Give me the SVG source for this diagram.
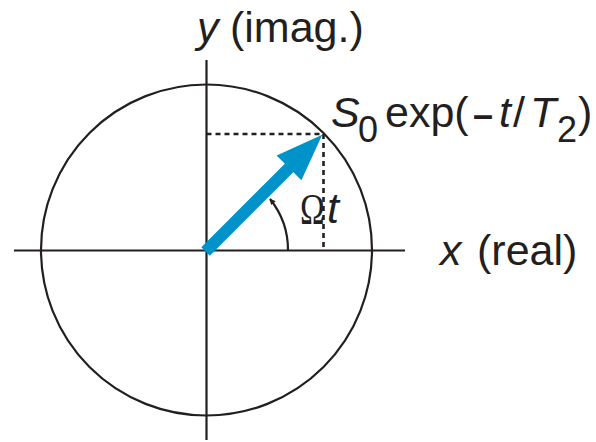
<svg xmlns="http://www.w3.org/2000/svg" width="596" height="442" viewBox="0 0 596 442">
<defs>
<style>
.ln{stroke:#231f20;stroke-width:2.2;fill:none}
.dot{stroke:#231f20;stroke-width:2.6;fill:none;stroke-dasharray:5 4}
.t{font-family:"Liberation Sans",Arial,sans-serif;fill:#231f20;font-size:43px}
.i{font-style:italic}
</style>
<marker id="ah" viewBox="0 0 10 10" refX="9" refY="5" markerWidth="8" markerHeight="6" markerUnits="userSpaceOnUse" orient="auto">
<path d="M0,0 L10,5 L0,10 z" fill="#231f20"/>
</marker>
</defs>
<rect width="596" height="442" fill="#fff"/>
<g id="axes">
<line class="ln" x1="14" y1="250.5" x2="405" y2="250.5"/>
<line class="ln" x1="206.5" y1="60" x2="206.5" y2="440"/>
</g>
<g id="circle">
<circle class="ln" cx="206.5" cy="250" r="165.5"/>
</g>
<g id="connectors">
<polyline class="dot" points="206.5,134 323.5,134 323.5,250"/>
<path class="ln" d="M288,250.5 A81.5,81.5 0 0 0 270,199" stroke-width="1.8" marker-end="url(#ah)"/>
</g>
<g id="vector" transform="translate(207,250) rotate(-45)">
<rect x="-2" y="-6" width="122" height="12" fill="#0093c9"/>
<polygon points="116,-17.5 163,0 116,17.5" fill="#0093c9"/>
</g>
<g id="label-y">
<text class="t" y="42"><tspan class="i" x="197">y</tspan><tspan x="230">(imag.)</tspan></text>
</g>
<g id="label-x">
<text class="t" y="265"><tspan class="i" x="440">x</tspan><tspan x="477">(real)</tspan></text>
</g>
<g id="label-s">
<text class="t" y="127"><tspan class="i" x="331">S</tspan><tspan x="358" y="142" font-size="36">0</tspan><tspan x="385" y="127">exp(</tspan><tspan x="473" font-size="36" font-weight="bold">–</tspan><tspan class="i" x="499">t</tspan><tspan x="513">/</tspan><tspan class="i" x="530">T</tspan><tspan x="557" y="142" font-size="36">2</tspan><tspan x="578" y="127">)</tspan></text>
</g>
<g id="label-omega">
<text x="0" y="224" font-family="'Liberation Serif',serif" font-size="45" fill="#231f20" transform="translate(300,0) scale(0.74,1)">Ω</text>
<text class="t i" x="327" y="223" font-size="38">t</text>
</g>
</svg>
